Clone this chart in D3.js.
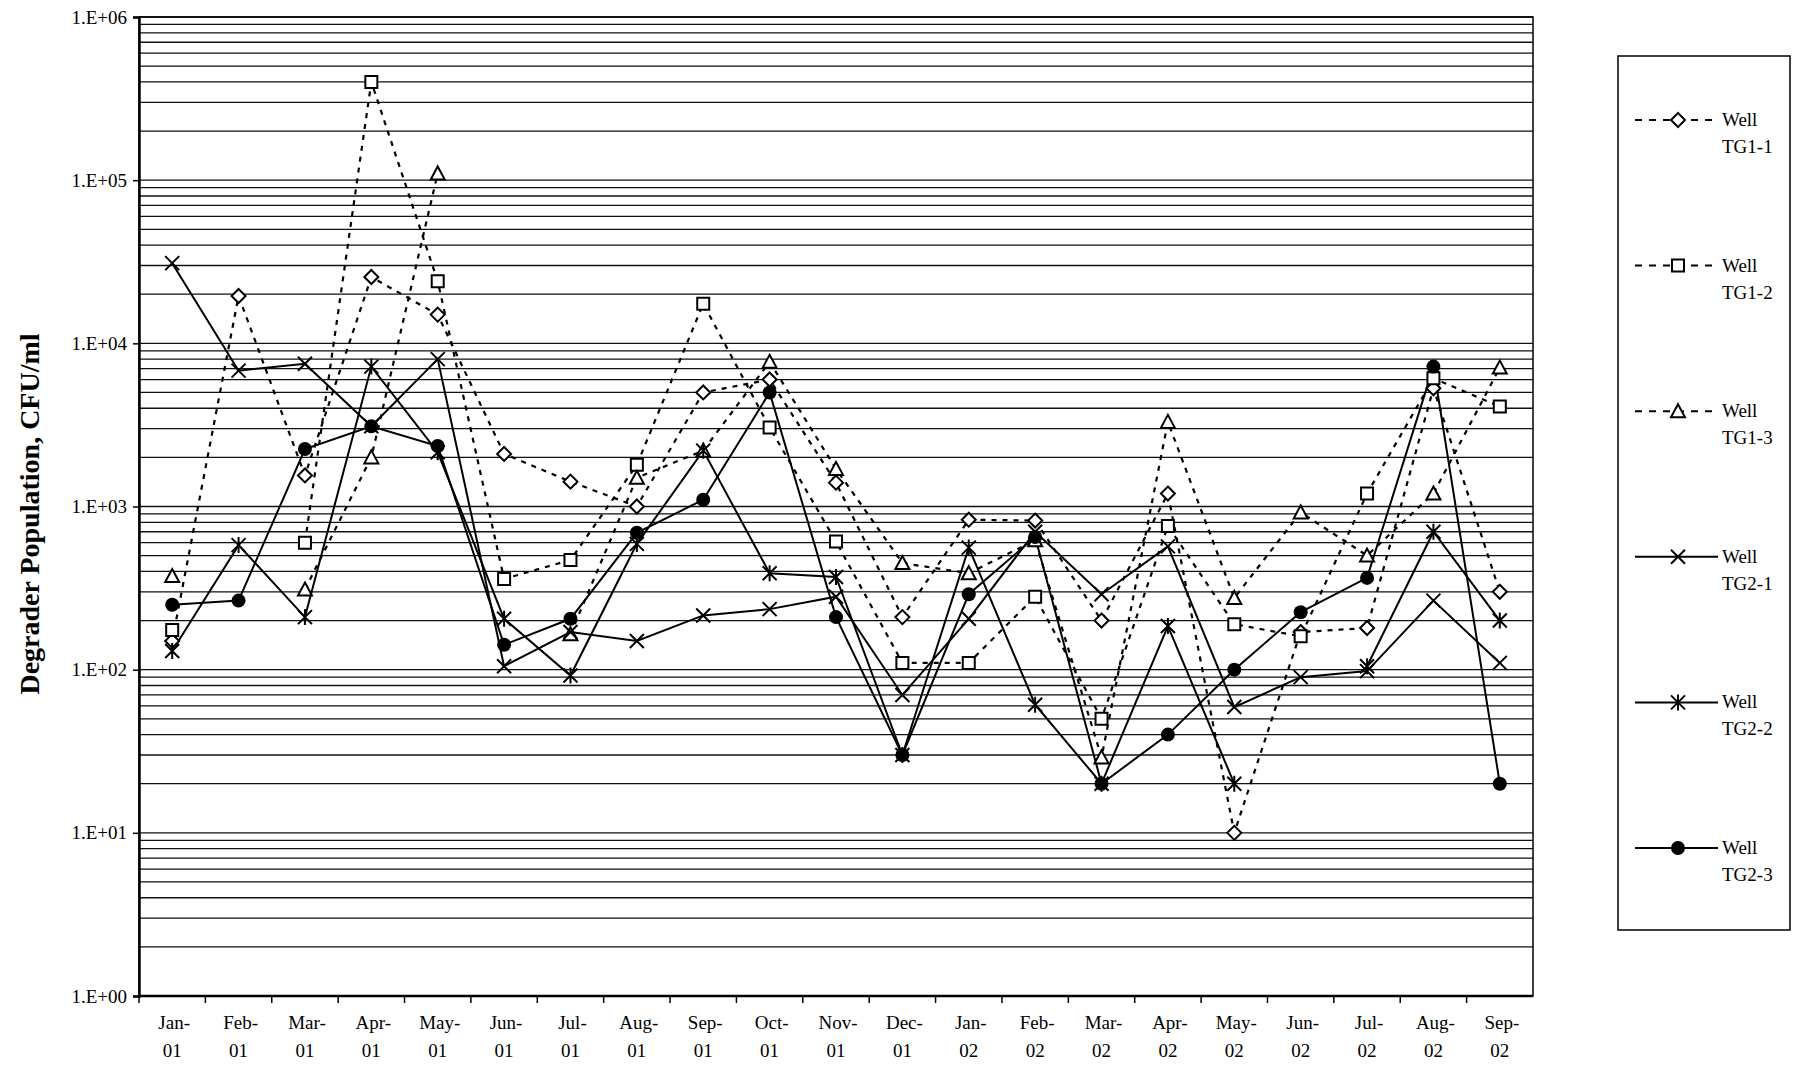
<!DOCTYPE html>
<html>
<head>
<meta charset="utf-8">
<script src="https://cdn.jsdelivr.net/npm/d3@7"></script>
<style>
body { margin: 0; background: #fff; }
text { font-family: "Liberation Serif", "Times New Roman", serif; fill: #000; }
</style>
</head>
<body>
<svg id="chart"></svg>
<script>
// months on the x axis, two-line labels
var months = ["Jan-01","Feb-01","Mar-01","Apr-01","May-01","Jun-01","Jul-01","Aug-01","Sep-01","Oct-01","Nov-01","Dec-01",
              "Jan-02","Feb-02","Mar-02","Apr-02","May-02","Jun-02","Jul-02","Aug-02","Sep-02"];

// degrader population, CFU/ml (null = no sample)
var tg11 = [150, 19500, 1550, 25500, 15000, 2100, 1420, 1000, 5000, 6000, 1400, 210, 830, 820, 200, 1200, 10, 170, 180, 5300, 300];
var tg12 = [175, null, 600, 400000, 24000, 360, 470, 1800, 17500, 3050, 610, 110, 110, 280, 50, 760, 190, 160, 1200, 6100, 4100];
var tg13 = [375, null, 310, 2000, 110000, null, 165, 1500, 2200, 7700, 1700, 450, 390, 620, 29, 3300, 275, 920, 500, 1200, 7100];
var tg21 = [31000, 6800, 7500, 3100, 8000, 105, 170, 150, 215, 235, 280, 70, 205, 700, 290, 570, 59, 90, 98, 265, 110];
var tg22 = [130, 580, 210, 7200, 2150, 205, 92, 590, 2200, 390, 370, 30, 560, 61, 20, 185, 20, null, 105, 700, 200];
var tg23 = [250, 265, 2250, 3100, 2350, 142, 205, 690, 1100, 5000, 210, 30, 290, 650, 20, 40, 100, 225, 365, 7200, 20];

var yTicks = [1, 10, 100, 1000, 10000, 100000, 1000000];

var series = [
    { name: "TG1-1", values: tg11, dashed: true,  marker: "diamond" },
    { name: "TG1-2", values: tg12, dashed: true,  marker: "square" },
    { name: "TG1-3", values: tg13, dashed: true,  marker: "triangle" },
    { name: "TG2-1", values: tg21, dashed: false, marker: "cross" },
    { name: "TG2-2", values: tg22, dashed: false, marker: "star" },
    { name: "TG2-3", values: tg23, dashed: false, marker: "circle" }
];

var W = 1797, H = 1071;
var plot = { left: 139, right: 1533, top: 17, bottom: 996 };

var svg = d3.select("#chart").attr("width", W).attr("height", H);

var x = d3.scaleBand().domain(months).range([plot.left, plot.right]);
var y = d3.scaleLog().domain([1, 1e6]).range([plot.bottom, plot.top]);
var cx = function(m) { return x(m) + x.bandwidth() / 2; };

// horizontal gridlines at 1..9 x 10^k
var grid = [];
for (var k = 0; k < 6; k++) {
    for (var m = 1; m <= 9; m++) grid.push(m * Math.pow(10, k));
}
grid.push(1e6);

svg.append("g").selectAll("line").data(grid).enter().append("line")
    .attr("x1", plot.left).attr("x2", plot.right)
    .attr("y1", function(d) { return y(d); })
    .attr("y2", function(d) { return y(d); })
    .attr("stroke", "#111")
    .attr("stroke-width", 1.3);

// plot border
svg.append("rect")
    .attr("x", plot.left).attr("y", plot.top)
    .attr("width", plot.right - plot.left).attr("height", plot.bottom - plot.top)
    .attr("fill", "none").attr("stroke", "#000").attr("stroke-width", 1.5);

// y axis
var yAxis = d3.axisLeft(y).tickValues(yTicks).tickSize(6).tickPadding(6)
    .tickFormat(function(d) { return "1.E+0" + Math.round(Math.log10(d)); });
var gy = svg.append("g").attr("transform", "translate(" + plot.left + ",0)").call(yAxis);
gy.select(".domain").attr("stroke-width", 2.5);
gy.selectAll(".tick line").attr("stroke-width", 1.5);
gy.selectAll("text").attr("font-size", 19).attr("font-family", "Liberation Serif");

// x axis: ticks at band edges, labels in two lines
var gx = svg.append("g").attr("transform", "translate(0," + plot.bottom + ")");
gx.append("line").attr("x1", plot.left).attr("x2", plot.right)
    .attr("stroke", "#000").attr("stroke-width", 2.5);
gx.selectAll(".xt").data(months).enter().append("line")
    .attr("class", "xt")
    .attr("x1", function(d) { return x(d); })
    .attr("x2", function(d) { return x(d); })
    .attr("y1", 0).attr("y2", 7)
    .attr("stroke", "#000").attr("stroke-width", 1.5);
var xl = gx.selectAll(".xl").data(months).enter().append("text")
    .attr("class", "xl")
    .attr("text-anchor", "middle")
    .attr("font-size", 19);
xl.append("tspan")
    .attr("x", function(d) { return cx(d) + 2; })
    .attr("y", 33)
    .text(function(d) { return d.split("-")[0] + "-"; });
xl.append("tspan")
    .attr("x", function(d) { return cx(d); })
    .attr("y", 61)
    .text(function(d) { return d.split("-")[1]; });

// y axis title
svg.append("text")
    .attr("transform", "translate(39,514) rotate(-90)")
    .attr("text-anchor", "middle")
    .attr("font-size", 28)
    .attr("font-weight", "bold")
    .text("Degrader Population, CFU/ml");

// marker drawing
function markerPath(type) {
    if (type == "diamond") return "M0,-7L7,0L0,7L-7,0Z";
    if (type == "square") return "M-6,-6L6,-6L6,6L-6,6Z";
    if (type == "triangle") return "M0,-7L7,6L-7,6Z";
    if (type == "cross") return "M-7,-7L7,7M7,-7L-7,7";
    if (type == "star") return "M-7,-7L7,7M7,-7L-7,7M0,-8L0,8";
    return "";
}
function drawMarker(g, type) {
    if (type == "circle") {
        g.append("circle").attr("r", 7).attr("fill", "#000");
    } else {
        g.append("path").attr("d", markerPath(type))
            .attr("fill", (type == "cross" || type == "star") ? "none" : "#fff")
            .attr("stroke", "#000").attr("stroke-width", 2);
    }
}

var line = d3.line()
    .defined(function(d) { return d.v != null; })
    .x(function(d) { return cx(d.m); })
    .y(function(d) { return y(d.v); });

series.forEach(function(s) {
    var pts = months.map(function(m, i) { return { m: m, v: s.values[i] }; });
    svg.append("path")
        .datum(pts)
        .attr("d", line)
        .attr("fill", "none")
        .attr("stroke", "#000")
        .attr("stroke-width", s.dashed ? 2.2 : 2)
        .attr("stroke-dasharray", s.dashed ? "5,6" : null);
});

series.forEach(function(s) {
    var pts = months.map(function(m, i) { return { m: m, v: s.values[i] }; })
        .filter(function(d) { return d.v != null; });
    svg.append("g").selectAll("g").data(pts).enter().append("g")
        .attr("transform", function(d) { return "translate(" + cx(d.m) + "," + y(d.v) + ")"; })
        .each(function() { drawMarker(d3.select(this), s.marker); });
});

// legend
var lg = svg.append("g");
lg.append("rect")
    .attr("x", 1618).attr("y", 56).attr("width", 172).attr("height", 874)
    .attr("fill", "#fff").attr("stroke", "#000").attr("stroke-width", 1.5);

var legendY = d3.scalePoint().domain(series.map(function(s) { return s.name; }))
    .range([120, 848]);

series.forEach(function(s) {
    var ly = legendY(s.name);
    lg.append("line")
        .attr("x1", 1635).attr("x2", 1718).attr("y1", ly).attr("y2", ly)
        .attr("stroke", "#000").attr("stroke-width", 2)
        .attr("stroke-dasharray", s.dashed ? "7,7" : null);
    var mg = lg.append("g").attr("transform", "translate(1678," + ly + ")");
    drawMarker(mg, s.marker);
    lg.append("text").attr("x", 1722).attr("y", ly + 6).attr("font-size", 19).text("Well");
    lg.append("text").attr("x", 1722).attr("y", ly + 33).attr("font-size", 19).text(s.name);
});
</script>
</body>
</html>
